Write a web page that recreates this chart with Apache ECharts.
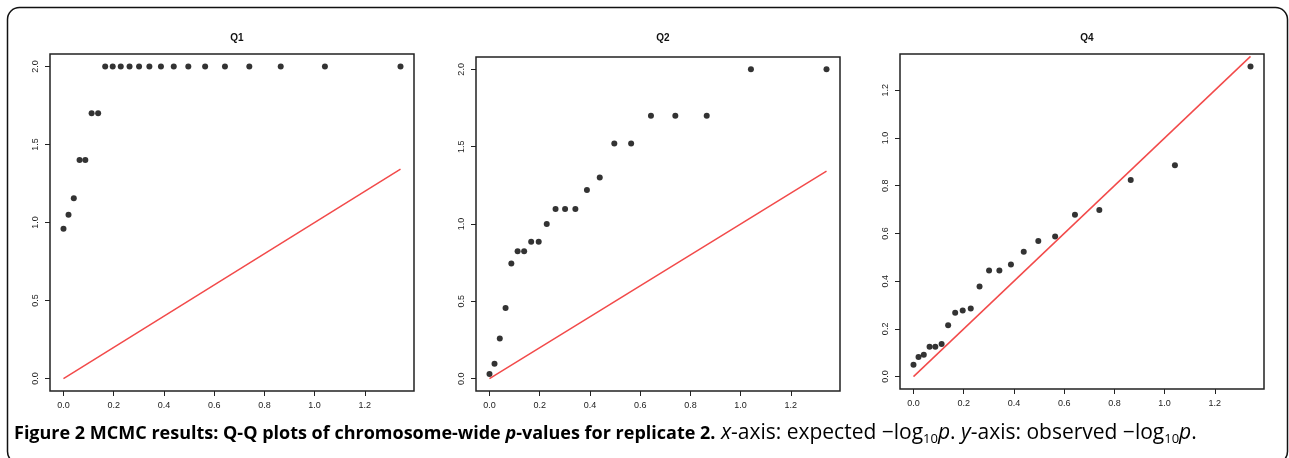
<!DOCTYPE html>
<html>
<head>
<meta charset="utf-8">
<script src="https://cdn.jsdelivr.net/npm/echarts@6/dist/echarts.min.js"></script>
<style>
  html, body { margin: 0; padding: 0; background: #fff; }
  #chart { width: 1289px; height: 458px; }
</style>
</head>
<body>
<div id="chart"></div>
<script>
// expected -log10(p), same for every panel
const expected = [0, 0.02, 0.041, 0.064, 0.087, 0.112, 0.138, 0.166, 0.196, 0.228, 0.263,
  0.301, 0.342, 0.388, 0.439, 0.497, 0.564, 0.643, 0.74, 0.865, 1.041, 1.342];

// observed -log10(p) per panel
const q1Observed = [0.96, 1.05, 1.155, 1.4, 1.4, 1.7, 1.7, 2, 2, 2, 2, 2, 2, 2, 2, 2, 2, 2, 2, 2, 2, 2];
const q2Observed = [0.03, 0.097, 0.26, 0.456, 0.745, 0.824, 0.824, 0.886, 0.886, 1.0, 1.097,
  1.097, 1.097, 1.22, 1.3, 1.52, 1.52, 1.7, 1.7, 1.7, 2.0, 2.0];
const q4Observed = [0.05, 0.082, 0.092, 0.125, 0.125, 0.137, 0.215, 0.268, 0.277, 0.285, 0.378,
  0.445, 0.445, 0.47, 0.523, 0.568, 0.587, 0.678, 0.698, 0.824, 0.886, 1.3];

const panelTitles = ["Q1", "Q2", "Q4"];
const xTicks = [0, 0.2, 0.4, 0.6, 0.8, 1.0, 1.2];
const yTicksWide = [0, 0.5, 1.0, 1.5, 2.0];
const yTicksQ4 = [0, 0.2, 0.4, 0.6, 0.8, 1.0, 1.2];
const diagonal = [[0, 0], [1.342, 1.342]];

const panels = [
  { obs: q1Observed, yTicks: yTicksWide, yMin: -0.08, yMax: 2.08, grid: { left: 50, top: 54, width: 364, height: 337 } },
  { obs: q2Observed, yTicks: yTicksWide, yMin: -0.08, yMax: 2.08, grid: { left: 476, top: 57, width: 364, height: 334 } },
  { obs: q4Observed, yTicks: yTicksQ4, yMin: -0.052, yMax: 1.352, grid: { left: 900, top: 54, width: 364, height: 335 } },
];

const chart = echarts.init(document.getElementById("chart"));
const tickColor = "#222";
const fmt = (v) => Number(v).toFixed(1);

const grid = panels.map((p) => ({
  ...p.grid,
  show: true,
  borderColor: "#222",
  borderWidth: 1.5,
  backgroundColor: "transparent",
}));

const xAxis = panels.map((p, i) => ({
  gridIndex: i,
  type: "value",
  min: -0.0537,
  max: 1.3957,
  axisLine: { show: false, onZero: false },
  axisTick: { show: true, length: 5, customValues: xTicks, lineStyle: { color: tickColor, width: 1 } },
  axisLabel: { customValues: xTicks, formatter: fmt, fontSize: 9, color: tickColor, margin: 10, fontFamily: "Liberation Sans" },
  splitLine: { show: false },
}));

const yAxis = panels.map((p, i) => ({
  gridIndex: i,
  type: "value",
  min: p.yMin,
  max: p.yMax,
  axisLine: { show: false, onZero: false },
  axisTick: { show: true, length: 5, customValues: p.yTicks, lineStyle: { color: tickColor, width: 1 } },
  axisLabel: { customValues: p.yTicks, formatter: fmt, fontSize: 9, color: tickColor, margin: 10, rotate: 90, fontFamily: "Liberation Sans" },
  splitLine: { show: false },
}));

const series = [];
panels.forEach((p, i) => {
  series.push({
    type: "scatter",
    xAxisIndex: i,
    yAxisIndex: i,
    symbolSize: 6,
    itemStyle: { color: "#000" },
    silent: true,
    data: expected.map((x, k) => [x, p.obs[k]]),
  });
  series.push({
    type: "line",
    xAxisIndex: i,
    yAxisIndex: i,
    showSymbol: false,
    silent: true,
    lineStyle: { color: "#f24a4a", width: 1.5 },
    data: diagonal,
  });
});

const title = panels.map((p, i) => ({
  text: panelTitles[i],
  left: p.grid.left + p.grid.width / 2,
  textAlign: "center",
  top: 28,
  textStyle: { fontSize: 10, fontWeight: "bold", color: "#111", fontFamily: "Liberation Sans" },
}));

const captionFont = "Open Sans";
const boldSize = 18;
const plainSize = 21;

chart.setOption({
  animation: false,
  backgroundColor: "#fff",
  title,
  grid,
  xAxis,
  yAxis,
  series,
  graphic: [
    {
      type: "rect",
      shape: { x: 7.5, y: 7.5, width: 1280, height: 456, r: 12 },
      style: { fill: "none", stroke: "#111", lineWidth: 1.5 },
      silent: true,
    },
    {
      type: "text",
      left: 14,
      top: 423,
      silent: true,
      style: {
        text:
          "{b|Figure 2 MCMC results: Q-Q plots of chromosome-wide }{bi|p}{b|-values for replicate 2.}{n| }" +
          "{i|x}{n|-axis: expected \u2212log}{sub|10}{i|p}{n|. }{i|y}{n|-axis: observed \u2212log}{sub|10}{i|p}{n|.}",
        rich: {
          b: { fontFamily: captionFont, fontSize: boldSize, fontWeight: "bold", color: "#111", lineHeight: 24 },
          bi: { fontFamily: captionFont, fontSize: boldSize, fontWeight: "bold", fontStyle: "italic", color: "#111", lineHeight: 24 },
          n: { fontFamily: captionFont, fontSize: plainSize, color: "#111", lineHeight: 24 },
          i: { fontFamily: captionFont, fontSize: plainSize, fontStyle: "italic", color: "#111", lineHeight: 24 },
          sub: { fontFamily: captionFont, fontSize: 13, color: "#111", lineHeight: 14, verticalAlign: "bottom" },
        },
      },
    },
  ],
});
</script>
</body>
</html>
